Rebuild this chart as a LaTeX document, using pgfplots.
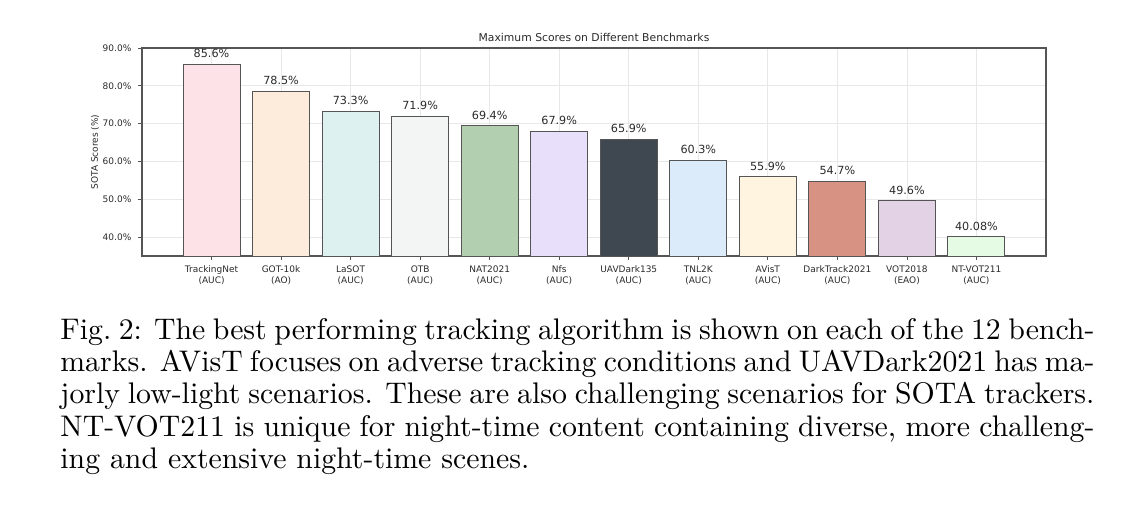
\documentclass[border=0pt]{standalone}
\usepackage{pgfplots}
\pgfplotsset{compat=1.18}
\usepackage{fontspec}
\newfontfamily\dejavu{DejaVu Sans}
\definecolor{c1}{HTML}{FDE3E8}
\definecolor{c2}{HTML}{FDEBDC}
\definecolor{c3}{HTML}{DDF1F1}
\definecolor{c4}{HTML}{F3F5F4}
\definecolor{c5}{HTML}{B2CFAF}
\definecolor{c6}{HTML}{E8E0FB}
\definecolor{c7}{HTML}{3F4851}
\definecolor{c8}{HTML}{DCEBF9}
\definecolor{c9}{HTML}{FFF4E0}
\definecolor{c10}{HTML}{D89284}
\definecolor{c11}{HTML}{E3D2E5}
\definecolor{c12}{HTML}{E5FBE3}
\definecolor{edge}{HTML}{555555}
\definecolor{txt}{HTML}{2A2A2A}
\begin{document}
\begin{tikzpicture}
\useasboundingbox (0,0) rectangle (574pt,260.5pt);
\begin{axis}[
  at={(71pt,132.5pt)}, anchor=south west,
  scale only axis, width=452pt, height=104pt,
  xmin=-1, xmax=12, ymin=35, ymax=90,
  xtick={0,...,11},
  xticklabels={TrackingNet\\(AUC),GOT-10k\\(AO),LaSOT\\(AUC),OTB\\(AUC),NAT2021\\(AUC),Nfs\\(AUC),UAVDark135\\(AUC),TNL2K\\(AUC),AVisT\\(AUC),DarkTrack2021\\(AUC),VOT2018\\(EAO),NT-VOT211\\(AUC)},
  ytick={40,50,60,70,80,90},
  yticklabels={40.0\%,50.0\%,60.0\%,70.0\%,80.0\%,90.0\%},
  xticklabel style={align=center, font=\dejavu\fontsize{4.5}{5.5}\selectfont, text=txt, yshift=0.3pt},
  yticklabel style={font=\dejavu\fontsize{4.5}{5}\selectfont, text=txt},
  /pgf/number format/assume math mode=true,
  tick align=outside, xtick pos=bottom, ytick pos=left,
  major tick length=1.8pt,
  tick style={draw=edge, line width=0.4pt},
  axis line style={draw=edge, line width=0.6pt},
  grid=major, grid style={draw=gray!18, line width=0.35pt},
  title={Maximum Scores on Different Benchmarks},
  title style={font=\dejavu\fontsize{5.4}{6}\selectfont, text=txt, yshift=-6.3pt},
  ylabel={SOTA Scores (\%)},
  ylabel style={font=\dejavu\fontsize{4.5}{5}\selectfont, text=txt, yshift=-5pt},
  every axis plot/.append style={ybar, bar width=0.82, bar shift=0pt, draw=edge, line width=0.5pt},
  nodes near coords style={font=\dejavu\fontsize{5.6}{6}\selectfont, text=txt, yshift=-0.3pt},
]
\addplot[fill=c1, nodes near coords={85.6\%}] coordinates {(0,85.6)};
\addplot[fill=c2, nodes near coords={78.5\%}] coordinates {(1,78.5)};
\addplot[fill=c3, nodes near coords={73.3\%}] coordinates {(2,73.3)};
\addplot[fill=c4, nodes near coords={71.9\%}] coordinates {(3,71.9)};
\addplot[fill=c5, nodes near coords={69.4\%}] coordinates {(4,69.4)};
\addplot[fill=c6, nodes near coords={67.9\%}] coordinates {(5,67.9)};
\addplot[fill=c7, nodes near coords={65.9\%}] coordinates {(6,65.9)};
\addplot[fill=c8, nodes near coords={60.3\%}] coordinates {(7,60.3)};
\addplot[fill=c9, nodes near coords={55.9\%}] coordinates {(8,55.9)};
\addplot[fill=c10, nodes near coords={54.7\%}] coordinates {(9,54.7)};
\addplot[fill=c11, nodes near coords={49.6\%}] coordinates {(10,49.6)};
\addplot[fill=c12, nodes near coords={40.08\%}] coordinates {(11,40.08)};
\end{axis}
\node[anchor=base west, inner sep=0pt] at (30pt,91pt)
{\scalebox{1.49}{\parbox[t]{347pt}{\fontsize{10}{10.9}\selectfont
Fig.~2: The best performing tracking algorithm is shown on each of the 12 bench-\linebreak
marks. AVisT focuses on adverse tracking conditions and UAVDark2021 has ma-\linebreak
jorly low-light scenarios. These are also challenging scenarios for SOTA trackers.\linebreak
NT-VOT211 is unique for night-time content containing diverse, more challeng-\linebreak
ing and extensive night-time scenes.}}};
\end{tikzpicture}
\end{document}
